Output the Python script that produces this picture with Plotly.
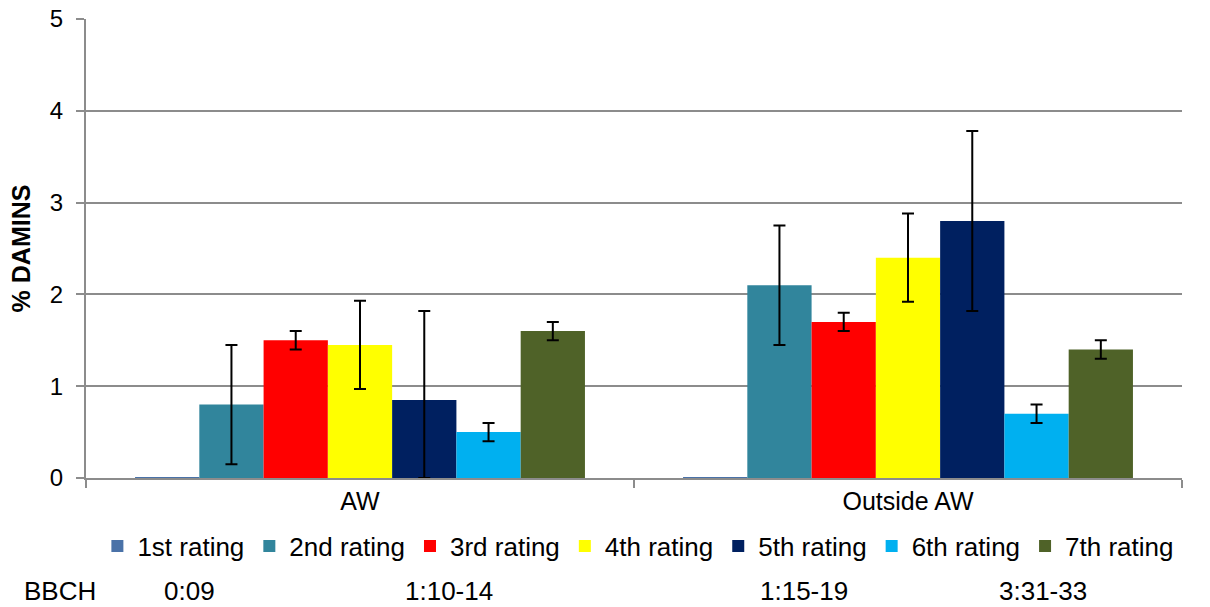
import plotly.graph_objects as go

CATEGORIES = ["AW", "Outside AW"]
SERIES = ["1st rating", "2nd rating", "3rd rating", "4th rating",
          "5th rating", "6th rating", "7th rating"]
COLORS = ["#4A72A8", "#31859C", "#FF0000", "#FFFF00", "#002060", "#00B0F0", "#4F6228"]

# mean % DAMINS per rating, [AW, Outside AW]
VALUES = [
    [0.01, 0.01],
    [0.80, 2.10],
    [1.50, 1.70],
    [1.45, 2.40],
    [0.85, 2.80],
    [0.50, 0.70],
    [1.60, 1.40],
]
ERR_PLUS = [
    [0, 0],
    [0.65, 0.65],
    [0.10, 0.10],
    [0.48, 0.48],
    [0.97, 0.98],
    [0.10, 0.10],
    [0.10, 0.10],
]
ERR_MINUS = [
    [0, 0],
    [0.65, 0.65],
    [0.10, 0.10],
    [0.48, 0.48],
    [0.85, 0.98],
    [0.10, 0.10],
    [0.10, 0.10],
]

BBCH_LABELS = ["BBCH", "0:09", "1:10-14", "1:15-19", "3:31-33"]
BBCH_X = [22, 162, 403, 758, 997]  # left edge, px in page

FONT = "Liberation Sans, Arial, sans-serif"
GRID = "#8C8C8C"

W, H = 1210, 607
M_L, M_R, M_T, M_B = 86, 28, 19, 129
PLOT_W = W - M_L - M_R
PLOT_H = H - M_T - M_B

fig = go.Figure()
for name, color, vals, ep, em in zip(SERIES, COLORS, VALUES, ERR_PLUS, ERR_MINUS):
    has_err = any(ep)
    fig.add_trace(go.Bar(
        name=name, x=CATEGORIES, y=vals,
        marker=dict(color=color, line=dict(width=0)),
        error_y=dict(type="data", array=ep, arrayminus=em, symmetric=False,
                     visible=has_err, color="black", thickness=2, width=6),
    ))

for text, px in zip(BBCH_LABELS, BBCH_X):
    fig.add_annotation(
        text=text, xref="paper", yref="paper",
        x=(px - M_L) / PLOT_W, y=(M_T + PLOT_H - 591) / PLOT_H,
        xanchor="left", yanchor="middle", showarrow=False,
        font=dict(family=FONT, size=26, color="black"),
    )

fig.update_layout(
    width=W, height=H,
    margin=dict(l=M_L, r=M_R, t=M_T, b=M_B, autoexpand=False),
    plot_bgcolor="white", paper_bgcolor="white",
    barmode="group", bargap=0.179, bargroupgap=0,
    font=dict(family=FONT, size=24, color="black"),
    legend=dict(
        orientation="h", x=0.504, xanchor="center",
        y=(M_T + PLOT_H - 546) / PLOT_H, yanchor="middle",
        font=dict(family=FONT, size=26, color="black"),
        itemwidth=30, tracegroupgap=0, traceorder="normal",
    ),
    xaxis=dict(
        showline=True, linecolor=GRID, linewidth=2,
        ticks="outside", tickson="boundaries", ticklen=8, tickcolor=GRID, tickwidth=2,
        tickfont=dict(family=FONT, size=25),
        showgrid=False,
    ),
    yaxis=dict(
        range=[0, 5], dtick=1,
        showline=True, linecolor=GRID, linewidth=2,
        ticks="outside", ticklen=8, tickcolor=GRID, tickwidth=2,
        ticklabelstandoff=8,
        showgrid=True, gridcolor=GRID, gridwidth=2,
        zeroline=False,
        tickfont=dict(family=FONT, size=24),
        title=dict(text="<b>% DAMINS</b>", font=dict(family=FONT, size=25), standoff=12),
    ),
)

# drop the default page margin so the figure sits at the window's top-left
fig.write_html("out.html", config={"displayModeBar": False},
               post_script="document.body.style.margin = '0';")
